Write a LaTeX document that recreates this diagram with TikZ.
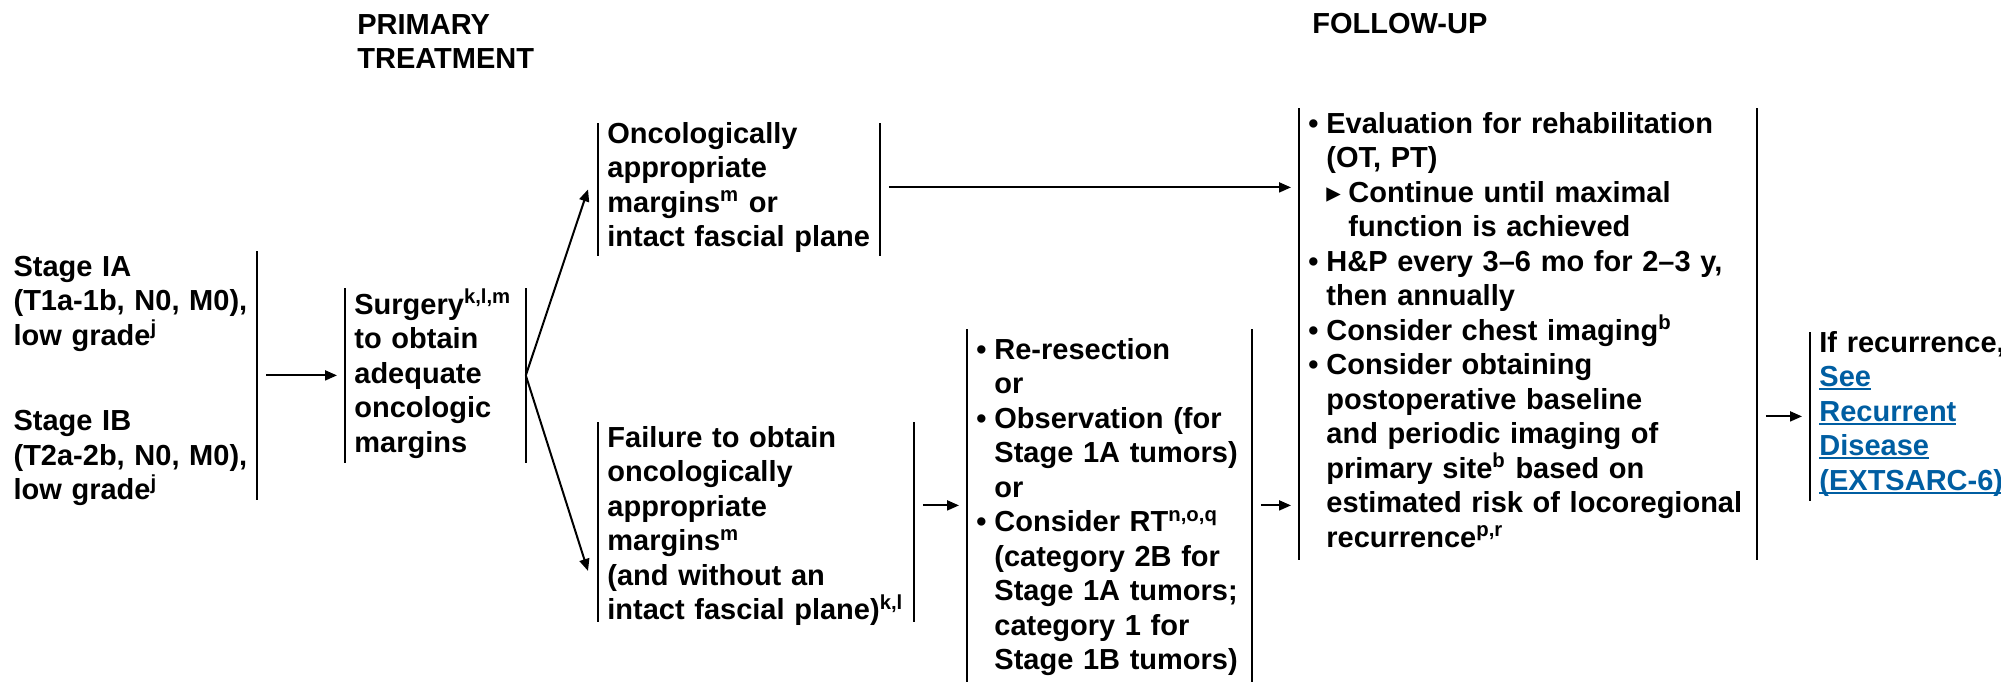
\documentclass[tikz,border=0pt]{standalone}
\usepackage{fontspec}
\setmainfont{Liberation Sans}
\newfontfamily\symfont{DejaVu Sans}
\usetikzlibrary{arrows.meta, calc, positioning}
\definecolor{linkblue}{RGB}{0,94,162}
\newcommand{\bx}{\fontsize{14.5}{17.25}\selectfont\bfseries}
\newcommand{\bul}{\hangindent=9pt\hangafter=1\makebox[9pt][l]{\textbullet}}
\newcommand{\subbul}{\hangindent=20pt\hangafter=1\hspace*{9pt}\makebox[11pt][l]{{\symfont ▸}}}
\newcommand{\lnk}[1]{{\color{linkblue}\setbox0\hbox{#1}\rlap{\rule[-1.75pt]{\wd0}{1pt}}\box0}}
\tikzset{
  box/.style={
	font=\bx, execute at begin node=\bx, % bold text, fixed line spacing
	align=left, inner xsep=4.5pt, inner ysep=0pt, % text starts just after the bar
	anchor=north west,
  },
  bar/.style={line width=1pt}, % the vertical bars beside each box
  arr/.style={
	line width=1pt,
	-{Triangle[length=6pt,width=5pt]}, % solid head
	shorten <=4.5pt, shorten >=4pt, % keep clear of the bars
  },
}
\begin{document}
\begin{tikzpicture}[x=0.5pt, y=-0.5pt]
\useasboundingbox (0,0) rectangle (2001,681);

% column heads
\node[box, text width=150pt, text height=10pt] (hprim) at (348,14) {PRIMARY\newline TREATMENT};
\node[box, text width=150pt, text height=10pt] (hfu) at (1303,13) {FOLLOW-UP};

\node[box, anchor=north east, text width=117pt, text height=12.5pt, text depth=111.5pt] (stage) at (257,251)
	{Stage IA\newline (T1a-1b, N0, M0),\newline low grade\textsuperscript{j}\par\vspace{25.5pt}
	 Stage IB\newline (T2a-2b, N0, M0),\newline low grade\textsuperscript{j}\par};
\node[box, text width=81pt, text height=13pt, text depth=74pt] (surg) at (345,288)
	{Surgery\textsuperscript{k,l,m}\newline to obtain\newline adequate\newline oncologic\newline margins\par};
\node[box, text width=131.5pt, text height=10pt, text depth=56pt] (onc) at (598,123)
	{Oncologically\newline appropriate\newline margins\textsuperscript{m} or\newline intact fascial plane\par};
\node[box, text width=148.5pt, text height=12.5pt, text depth=87pt] (fail) at (598,422)
	{Failure to obtain\newline oncologically\newline appropriate\newline margins\textsuperscript{m}\newline (and without an\newline intact fascial plane)\textsuperscript{k,l}\par};
\node[box, text width=133pt, text height=15pt, text depth=161pt] (rt) at (967,329)
	{\bul Re-resection\newline or\par
	 \bul Observation (for\newline Stage 1A tumors)\newline or\par
	 \bul Consider RT\textsuperscript{n,o,q}\newline (category 2B for\newline Stage 1A tumors;\newline category 1 for\newline Stage 1B tumors)\par};
\node[box, text width=219.5pt, text height=12.5pt, text depth=213pt] (fu) at (1299,108)
	{\bul Evaluation for rehabilitation\newline (OT, PT)\par
	 \subbul Continue until maximal\newline function is achieved\par
	 \bul H\&P every 3--6 mo for 2--3 y,\newline then annually\par
	 \bul Consider chest imaging\textsuperscript{b}\par
	 \bul Consider obtaining\newline postoperative baseline\newline and periodic imaging of\newline primary site\textsuperscript{b} based on\newline estimated risk of locoregional\newline recurrence\textsuperscript{p,r}\par};
\node[box, text width=100pt, text height=10pt, text depth=74pt] (rec) at (1810,332)
	{If recurrence,\newline \lnk{See}\newline \lnk{Recurrent}\newline \lnk{Disease}\newline \lnk{(EXTSARC-6)}\par};

% bars
\draw[bar] (stage.north east) -- (stage.south east);
\foreach \n in {surg,onc,fail,rt,fu}
  \draw[bar] (\n.north west) -- (\n.south west) (\n.north east) -- (\n.south east);
\draw[bar] (rec.north west) -- (rec.south west);

% arrows
\draw[arr] (stage.east) -- (surg.west);
\draw[arr, shorten <=0pt, shorten >=0pt] (surg.east) -- ([xshift=-5pt]onc.west);
\draw[arr, shorten <=0pt, shorten >=0pt] (surg.east) -- ([shift={(-5pt,-24.5pt)}]fail.west);
\draw[arr] ([yshift=1pt]onc.east) -- ([yshift=1pt]onc.east -| fu.west);
\draw[arr] (rt.west -| fail.east) -- (rt.west);
\draw[arr] (rt.east) -- (rt.east -| fu.west);
\draw[arr] (rec.west -| fu.east) -- (rec.west);
\end{tikzpicture}
\end{document}
